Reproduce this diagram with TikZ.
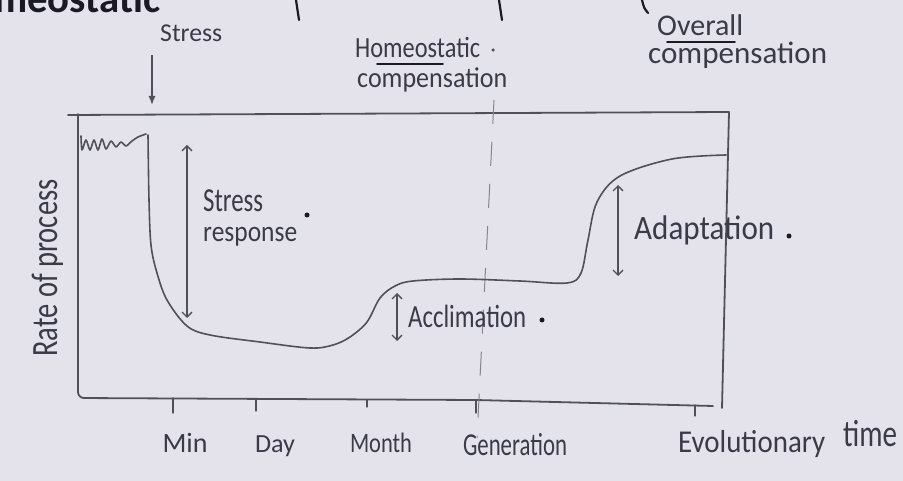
\documentclass[tikz,border=0pt]{standalone}
\usepackage{fontspec}
\setmainfont{Carlito}
\usetikzlibrary{arrows.meta}
\definecolor{paper}{RGB}{228,227,235}
\definecolor{pencil}{RGB}{80,80,92}
\definecolor{ink}{RGB}{58,58,72}
\definecolor{pen}{RGB}{26,26,38}
% set a label to a given width, optionally stretched upwards
\newcommand\fitw[3][1]{\scalebox{1}[#1]{\resizebox{#2}{!}{#3}}}
\begin{document}
\begin{tikzpicture}[x=1pt,y=-1pt,
  hand/.style={inner sep=0pt, text=ink, font=\fontsize{20}{22}\selectfont},
  frame/.style={draw=pencil, line width=1.8pt, line cap=round, line join=round},
  curve/.style={draw=pencil, line width=1.6pt, line cap=round, line join=round},
  tick/.style={draw=pencil, line width=1.3pt, line cap=round},
  span/.style={draw=pencil, line width=1.3pt,
    {Straight Barb[length=5pt,width=10pt]}-{Straight Barb[length=5pt,width=10pt]}},
  blot/.style={fill=pen, circle, inner sep=0pt, minimum size=5pt},
  penstroke/.style={draw=pen, line width=2.2pt, line cap=round},
]
\fill[paper] (0,0) rectangle (903,481);
\useasboundingbox (0,0) rectangle (903,481);

% strokes of the line above
\node[hand, text=pen, anchor=base west, font=\bfseries] (prevword) at (-6,13) {\fitw{166pt}{meostatic}};
\draw[penstroke] (296,0) .. controls (297,10) .. (299,20);
\draw[penstroke] (499,0) .. controls (500,10) .. (502,20);
\draw[penstroke] (642,0) .. controls (644,8) .. (648,13);

% headings
\node[hand, anchor=base west] (stress) at (160,42) {\fitw{62pt}{Stress}};
\coordinate (stressTail) at (152,55);
\coordinate (stressHead) at (152,105);
\draw[pencil, line width=1.4pt, -{Latex[length=9pt,width=7pt]}] (stressTail) -- (stressHead);

\node[hand, anchor=base west] (homeo) at (355,58) {\fitw[1.2]{125pt}{Homeostatic}};
\node[hand, anchor=base west] (homeocomp) at (357,88) {\fitw[1.1]{150pt}{compensation}};
\draw[pen, line width=1.6pt, line cap=round] (377,64) -- (443,64);
\node[blot, minimum size=3.5pt, fill=pencil] (homeodot) at (493,50) {};

\node[hand, anchor=base west] (overall) at (657,36) {\fitw{86pt}{Overall}};
\node[hand, anchor=base west] (overallcomp) at (648,64) {\fitw{179pt}{compensation}};
\draw[pen, line width=1.8pt, line cap=round] (667,42) -- (735,42);

% frame of the plot
\draw[frame] (68,115) -- (729,112) -- (722,408);
\draw[frame, rounded corners=6pt] (78,114) -- (78,398) -- (476,400) -- (713,406);

% time divisions
\draw[tick] (173,398) -- (173,413);
\draw[tick] (256,399) -- (256,411);
\draw[tick] (367,400) -- (367,407);
\draw[tick] (476,400) -- (476,413);
\draw[tick] (695,405) -- (695,416);

% generation marker
\coordinate (genTop) at (494,100);
\coordinate (genBot) at (477,438);
\draw[pencil!70, line width=1pt, dash pattern=on 24pt off 18pt] (genTop) -- (genBot);

% axis labels
\node[hand, anchor=base] (tmin) at (185,452) {\fitw{45pt}{Min}};
\node[hand, anchor=base] (tday) at (275,452) {\fitw{40pt}{Day}};
\node[hand, anchor=base] (tmonth) at (381,452) {\fitw[1.25]{62pt}{Month}};
\node[hand, anchor=base] (tgen) at (515,455) {\fitw[1.4]{104pt}{Generation}};
\node[hand, anchor=base west] (tevo) at (678,452) {\fitw[1.1]{147pt}{Evolutionary}};
\node[hand, anchor=base west] (ttime) at (843,446) {\fitw[1.3]{54pt}{time}};
\node[hand, rotate=90, anchor=base] (ylabel) at (57,268) {\fitw[1.3]{177pt}{Rate of process}};

% rate of the process over time
\draw[curve] plot[smooth, tension=0.45] coordinates {
  (81,136) (82,150) (86,140) (90,150) (94,140) (98,150) (102,139) (106,149)
  (111,141) (116,147) (121,142) (126,146) (132,141) (138,137) (146,134)};
\draw[curve] plot[smooth, tension=0.55] coordinates {
  (148,135) (149,200) (151,245) (157,273) (167,300) (187,326) (210,335)
  (260,342) (310,348) (333,345) (350,337) (367,322) (380,298) (395,286)
  (413,281) (460,279) (520,281) (567,283) (581,273) (588,240) (597,202)
  (620,176) (672,159) (726,155)};

% stress response
\coordinate (srTop) at (187,145);
\coordinate (srBot) at (187,318);
\draw[span] (srTop) -- (srBot);
\node[hand, anchor=base west] (srA) at (203,212) {\fitw[1.35]{60pt}{Stress}};
\node[hand, anchor=base west] (srB) at (203,242) {\fitw[1.15]{94pt}{response}};
\node[blot] (srdot) at (307,215) {};

% acclimation
\coordinate (acTop) at (397,293);
\coordinate (acBot) at (397,341);
\draw[span] (acTop) -- (acBot);
\node[hand, anchor=base west] (acl) at (408,327) {\fitw[1.3]{118pt}{Acclimation}};
\node[blot] (acdot) at (542,320) {};

% adaptation
\coordinate (adTop) at (618,185);
\coordinate (adBot) at (618,276);
\draw[span] (adTop) -- (adBot);
\node[hand, anchor=base west] (adl) at (634,240) {\fitw[1.1]{140pt}{Adaptation}};
\node[blot] (addot) at (789,236) {};
\end{tikzpicture}
\end{document}
